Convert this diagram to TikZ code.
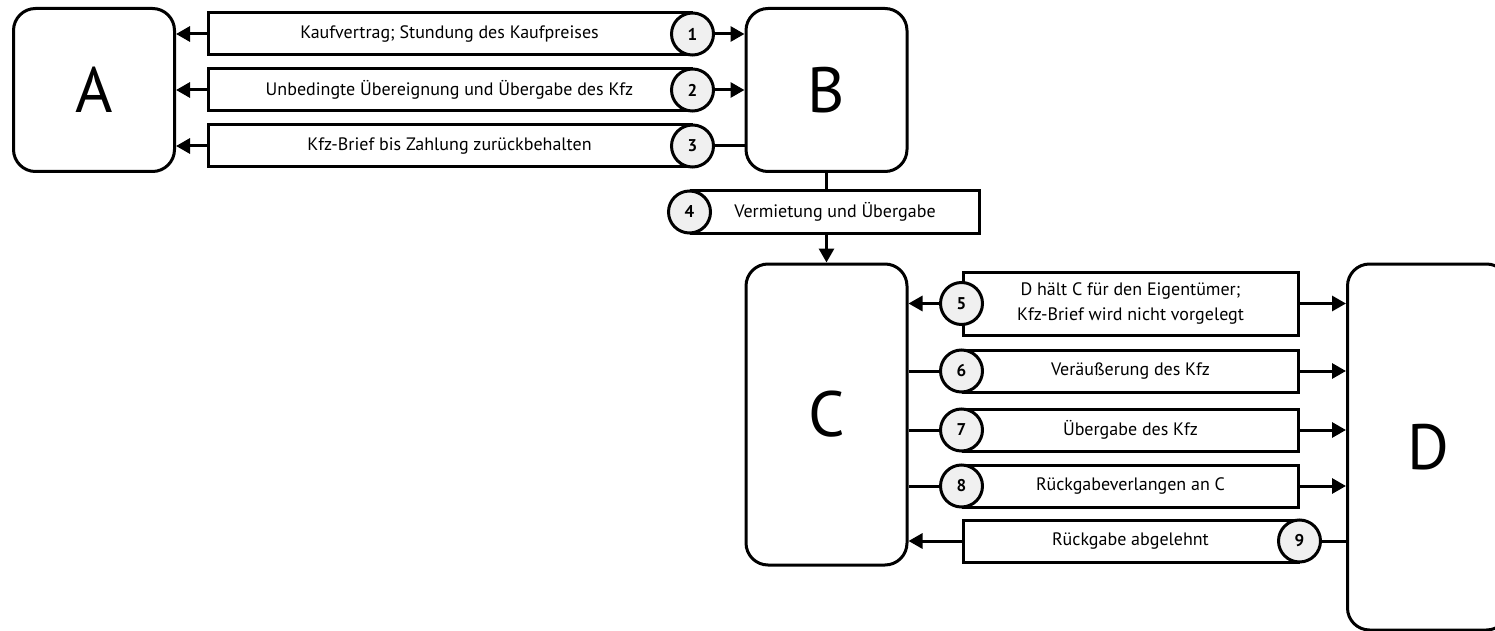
\documentclass[tikz,border=0pt]{standalone}
\usepackage{fontspec}
\setmainfont{PT Sans}
\usetikzlibrary{arrows.meta,positioning}
\tikzset{
  party/.style={draw, line width=1.5pt, rounded corners=11pt, minimum width=80.5pt, font=\fontsize{32}{36}\selectfont},
  fact/.style={draw, fill=white, line width=1.5pt, minimum height=21pt, inner sep=0pt, font=\fontsize{9}{12.5}\selectfont},
  numball/.style={circle, draw, line width=1.5pt, fill=black!6, minimum size=21pt, inner sep=0pt, font=\fontsize{8.5}{10}\bfseries\selectfont},
  link/.style={line width=1.5pt},
  flow/.style={link, -{Triangle[length=7pt,width=7.5pt]}},
}
\begin{document}
\begin{tikzpicture}[x=0.5pt,y=-0.5pt]
\useasboundingbox (0,0) rectangle (1495,631);
\clip (0,0) rectangle (1495,631);
% parties
\node[party, minimum height=81.5pt] (A) at (94,90) {A};
\node[party, minimum height=81.5pt] (B) at (826.5,90) {B};
\node[party, minimum height=150.5pt] (C) at (826.5,414.5) {C};
\node[party, minimum height=183pt] (D) at (1428,447) {D};
% A -- B
\node[fact, minimum width=241.5pt] (f1) at (449.5,34) {Kaufvertrag; Stundung des Kaufpreises};
\node[fact, minimum width=241.5pt] (f2) at (449.5,90) {Unbedingte Übereignung und Übergabe des Kfz};
\node[fact, minimum width=241.5pt] (f3) at (449.5,146) {Kfz-Brief bis Zahlung zurückbehalten};
\node[numball] (n1) at (f1.east) {1};
\node[numball] (n2) at (f2.east) {2};
\node[numball] (n3) at (f3.east) {3};
\draw[flow] (f1.west) -- (f1 -| A.east);
\draw[flow] (f2.west) -- (f2 -| A.east);
\draw[flow] (f3.west) -- (f3 -| A.east);
\draw[flow] (n1.east) -- (n1 -| B.west);
\draw[flow] (n2.east) -- (n2 -| B.west);
\draw[link] (n3.east) -- (n3 -| B.west);
% B -- C
\node[fact, minimum width=144pt] (f4) at (835,212) {Vermietung und Übergabe};
\node[numball] (n4) at (f4.west) {4};
\draw[link] (B.south) -- (B.south |- f4.north);
\draw[flow] (B.south |- f4.south) -- (C.north);
% C -- D
\node[fact, minimum width=167.5pt, minimum height=31.5pt, align=center] (f5) at (1130.5,303.5) {D hält C für den Eigentümer;\\Kfz-Brief wird nicht vorgelegt};
\node[fact, minimum width=167.5pt] (f6) at (1130.5,371) {Veräußerung des Kfz};
\node[fact, minimum width=167.5pt] (f7) at (1130.5,430) {Übergabe des Kfz};
\node[fact, minimum width=167.5pt] (f8) at (1130.5,486) {Rückgabeverlangen an C};
\node[fact, minimum width=167.5pt] (f9) at (1130.5,541) {Rückgabe abgelehnt};
\node[numball] (n5) at (f5.west) {5};
\node[numball] (n6) at (f6.west) {6};
\node[numball] (n7) at (f7.west) {7};
\node[numball] (n8) at (f8.west) {8};
\node[numball] (n9) at (f9.east) {9};
\draw[flow] (n5.west) -- (n5 -| C.east);
\draw[link] (n6.west) -- (n6 -| C.east);
\draw[link] (n7.west) -- (n7 -| C.east);
\draw[link] (n8.west) -- (n8 -| C.east);
\draw[flow] (f9.west) -- (f9 -| C.east);
\draw[flow] (f5.east) -- (f5 -| D.west);
\draw[flow] (f6.east) -- (f6 -| D.west);
\draw[flow] (f7.east) -- (f7 -| D.west);
\draw[flow] (f8.east) -- (f8 -| D.west);
\draw[link] (n9.east) -- (n9 -| D.west);
\end{tikzpicture}
\end{document}
